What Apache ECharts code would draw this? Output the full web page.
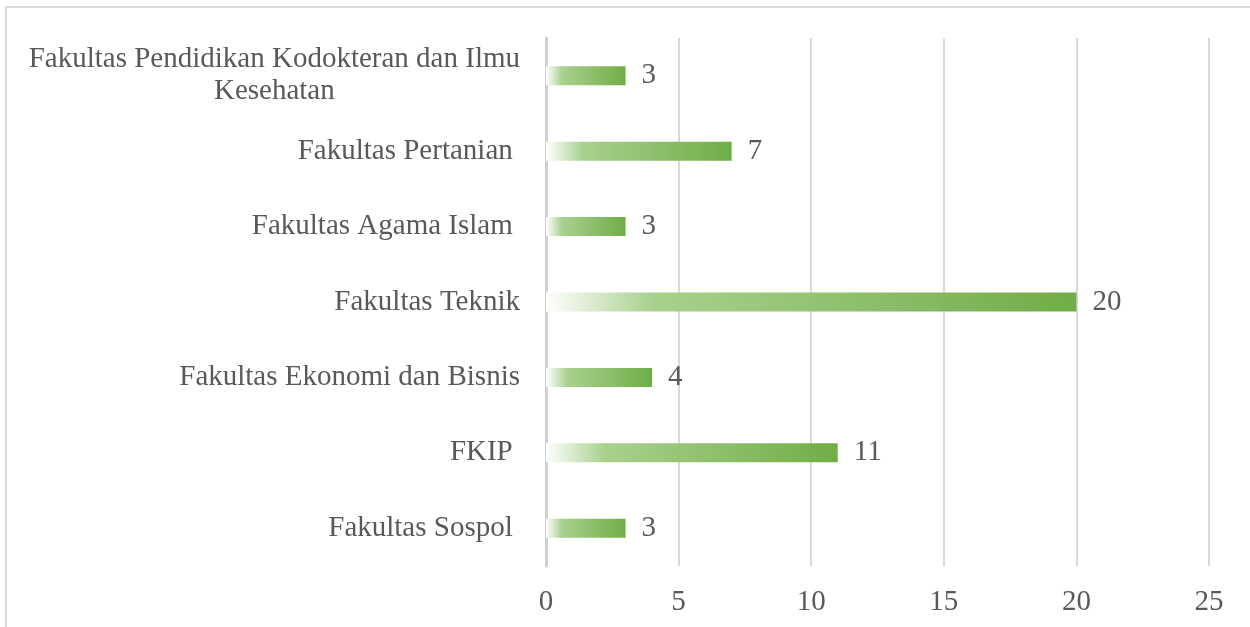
<!DOCTYPE html>
<html>
<head>
<meta charset="utf-8">
<script src="https://cdn.jsdelivr.net/npm/echarts@6/dist/echarts.min.js"></script>
<style>
  html, body { margin: 0; padding: 0; background: #fff; }
  #chart { width: 1250px; height: 627px; }
</style>
</head>
<body>
<div id="chart"></div>
<script>
// bottom to top, as in the source sheet
const categories = [
  'Fakultas Sospol ',
  'FKIP ',
  'Fakultas Ekonomi dan Bisnis',
  'Fakultas Teknik',
  'Fakultas Agama Islam ',
  'Fakultas Pertanian ',
  'Fakultas Pendidikan Kodokteran dan Ilmu\nKesehatan',
]
const counts = [3, 11, 4, 20, 3, 7, 3]
const xTicks = [0, 5, 10, 15, 20, 25]

const font = '"Liberation Serif", "Times New Roman", serif'
const textColor = '#595959'
const lineColor = '#d9d9d9'

const chart = echarts.init(document.getElementById('chart'), null, { renderer: 'canvas' })

const barFill = new echarts.graphic.LinearGradient(0, 0, 1, 0, [
  { offset: 0, color: '#ffffff' },
  { offset: 0.2, color: '#a9d18e' },
  { offset: 1, color: '#70ad47' },
])

chart.setOption({
  backgroundColor: '#fff',
  animation: false,
  graphic: [{
    type: 'rect',
    shape: { x: 6, y: 7, width: 1400, height: 800 },
    style: { fill: 'none', stroke: lineColor, lineWidth: 2 },
    silent: true,
  }],
  grid: {
    left: 546,
    right: 41,
    top: 38,
    bottom: 61,
    containLabel: false,
  },
  xAxis: {
    type: 'value',
    min: xTicks[0],
    max: xTicks[xTicks.length - 1],
    interval: 5,
    axisLine: { show: false },
    axisTick: { show: false },
    axisLabel: {
      color: textColor,
      fontFamily: font,
      fontSize: 29,
      margin: 22,
    },
    splitLine: {
      lineStyle: { color: lineColor, width: 2 },
    },
  },
  yAxis: {
    type: 'category',
    data: categories,
    axisTick: { show: false },
    axisLine: {
      lineStyle: { color: '#d0d0d0', width: 3 },
    },
    axisLabel: {
      margin: 26,
      formatter: value => '{c|' + value.split('\n').join('}\n{c|') + '}',
      rich: {
        c: {
          color: textColor,
          fontFamily: font,
          fontSize: 29,
          lineHeight: 32,
          align: 'center',
        },
      },
    },
  },
  series: [{
    type: 'bar',
    data: counts,
    barWidth: 19,
    itemStyle: { color: barFill },
    label: {
      show: true,
      position: 'right',
      distance: 16,
      color: textColor,
      fontFamily: font,
      fontSize: 29,
    },
  }],
})
</script>
</body>
</html>
